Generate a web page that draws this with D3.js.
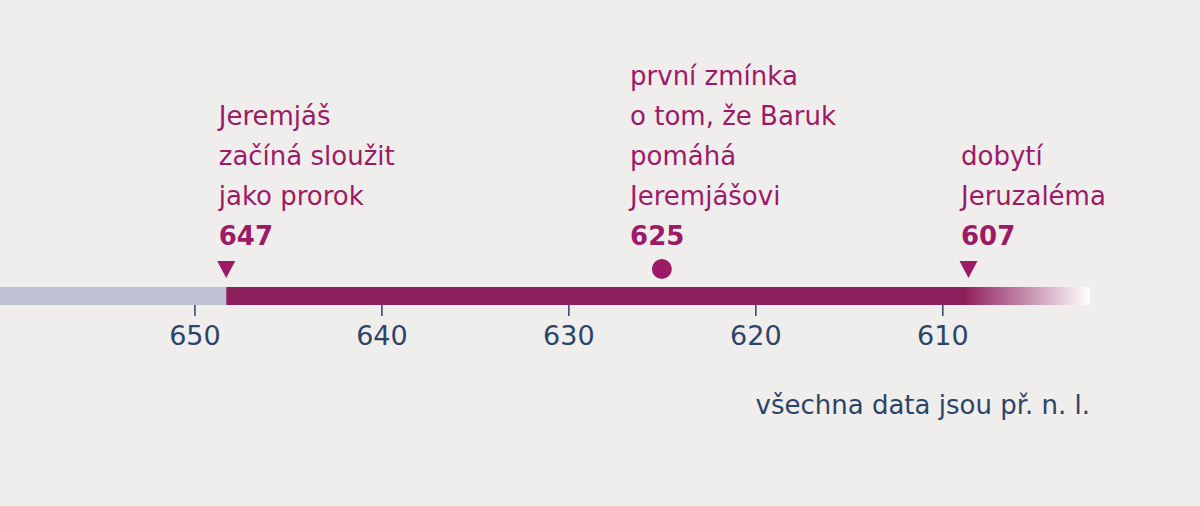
<!DOCTYPE html>
<html><head><meta charset="utf-8">
<script src="https://cdn.jsdelivr.net/npm/d3@7"></script>
<style>body{margin:0;background:#efeeec;}svg{display:block;font-family:"DejaVu Sans",sans-serif;}</style>
</head><body>
<svg id="c" width="1200" height="506"></svg>
<script>
const ticks=[650,640,630,620,610];
const eventLabels=[["Jeremjáš","začíná sloužit","jako prorok"],["první zmínka","o tom, že Baruk","pomáhá","Jeremjášovi"],["dobytí","Jeruzaléma"]];
const eventYears=["647","625","607"];
const eventPos=[648.3,625.0,608.6];
const eventTextPos=[648.7,626.7,609.0];
const eventMark=["tri","dot","tri"];
const barStart=660.4, barSplit=648.3, barEnd=602.1;
const note="všechna data jsou př. n. l.";

const svg=d3.select("#c");
const x=d3.scaleLinear().domain([660.4,602.1]).range([0,1090]);
const purple="#8e1f5d", txt="#9c1a66", navy="#2c4468";
const defs=svg.append("defs");
const g=defs.append("linearGradient").attr("id","fade").attr("gradientUnits","userSpaceOnUse")
 .attr("x1",x(610)).attr("x2",x(barEnd)).attr("y1",0).attr("y2",0);
g.append("stop").attr("offset",0).attr("stop-color",purple);
g.append("stop").attr("offset",0.15).attr("stop-color",purple);
g.append("stop").attr("offset",1).attr("stop-color","#fff");
const bY=287,bH=18;
svg.append("rect").attr("x",x(barStart)).attr("y",bY).attr("width",x(barSplit)-x(barStart)).attr("height",bH).attr("fill","#bec1d3");
svg.append("rect").attr("x",x(barSplit)).attr("y",bY).attr("width",x(barEnd)-x(barSplit)).attr("height",bH).attr("fill","url(#fade)");
const ax=svg.append("g").attr("transform",`translate(0,${bY+bH})`)
 .call(d3.axisBottom(x).tickValues(ticks).tickSize(11).tickPadding(7));
ax.select(".domain").remove();
ax.selectAll("line").attr("stroke",navy).attr("stroke-width",1.5);
ax.selectAll("text").attr("fill",navy).attr("font-size",27).attr("font-family","DejaVu Sans").attr("dy","0.8em");
eventLabels.forEach((lines,i)=>{
  const px=x(eventPos[i]), tx=x(eventTextPos[i]);
  const n=lines.length;
  lines.forEach((l,j)=>{
    svg.append("text").attr("x",tx).attr("y",245-40*(n-j)).attr("fill",txt).attr("font-size",26).text(l);
  });
  svg.append("text").attr("x",tx).attr("y",245).attr("fill",txt).attr("font-size",26).attr("font-weight","bold").text(eventYears[i]);
  if(eventMark[i]==="dot") svg.append("circle").attr("cx",px).attr("cy",269).attr("r",10).attr("fill",txt);
  else svg.append("path").attr("d",`M${px-9},261 L${px+9},261 L${px},278 Z`).attr("fill",txt);
});
svg.append("text").attr("x",1090).attr("y",414).attr("text-anchor","end").attr("fill",navy).attr("font-size",26).text(note);
</script>
</body></html>
